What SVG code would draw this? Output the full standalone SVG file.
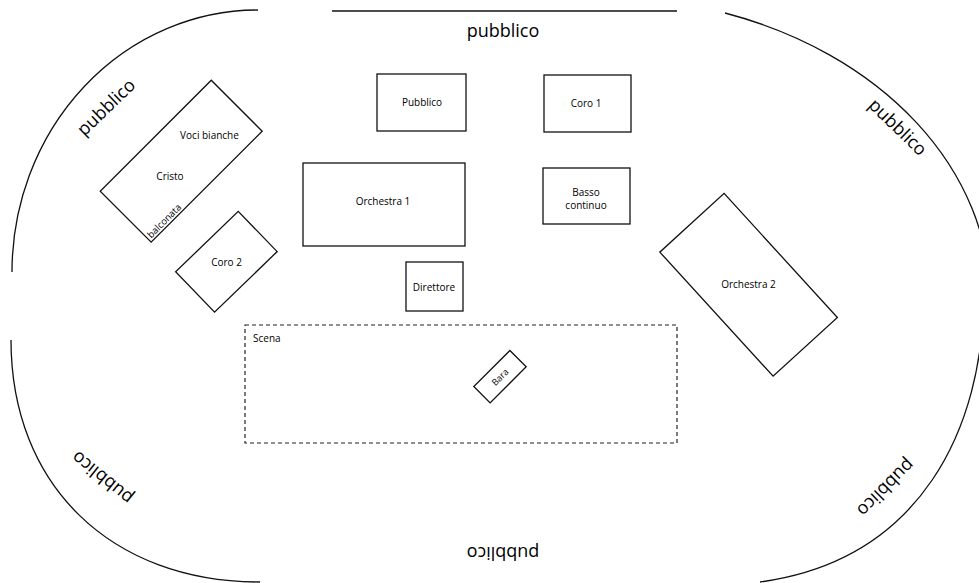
<svg xmlns="http://www.w3.org/2000/svg" width="979" height="583" viewBox="0 0 979 583">
<style>
  .bound { fill: none; stroke: #111; stroke-width: 1.3; }
  .box { fill: none; stroke: #111; stroke-width: 1.3; }
  .dash { fill: none; stroke: #222; stroke-width: 1.2; stroke-dasharray: 4 3; }
  .lbl { font-family: "Open Sans", "Noto Sans", sans-serif; font-size: 10px; fill: #000; text-anchor: middle; }
  .lbl-s { font-family: "Open Sans", "Noto Sans", sans-serif; font-size: 9.5px; fill: #000; }
  .pub { font-family: "Open Sans", "Noto Sans", sans-serif; font-size: 18px; fill: #000; text-anchor: middle; }
</style>
<rect width="979" height="583" fill="#fff"/>

<g id="audience">
  <path class="bound" d="M332,11 L677,11"/>
  <path class="bound" d="M258,10 A246,262 0 0 0 12,272"/>
  <path class="bound" d="M11,340 C11,485 110.6,582 260,582"/>
  <path class="bound" d="M725,13 A390,302 0 0 1 990,298"/>
  <path class="bound" d="M984,290 C984,430 920,560 760,582"/>
  <text class="pub" x="503" y="37">pubblico</text>
  <text class="pub" transform="translate(503,552) rotate(180)" x="0" y="5">pubblico</text>
  <text class="pub" transform="translate(107,108) rotate(-44)" x="0" y="5">pubblico</text>
  <text class="pub" transform="translate(897,128) rotate(44)" x="0" y="5">pubblico</text>
  <text class="pub" transform="translate(103,477) rotate(219)" x="0" y="5">pubblico</text>
  <text class="pub" transform="translate(885,487) rotate(135)" x="0" y="5">pubblico</text>
</g>

<g id="connectors"></g>

<g id="pubblico-box">
  <rect class="box" x="377" y="74" width="89" height="57"/>
  <text class="lbl" x="422" y="106">Pubblico</text>
</g>

<g id="coro1">
  <rect class="box" x="544" y="75" width="87" height="57"/>
  <text class="lbl" x="586" y="107">Coro 1</text>
</g>

<g id="orchestra1">
  <rect class="box" x="303" y="163" width="162" height="83"/>
  <text class="lbl" x="383" y="205">Orchestra 1</text>
</g>

<g id="basso-continuo">
  <rect class="box" x="543" y="168" width="87" height="56"/>
  <text class="lbl" x="586" y="195.5">Basso</text>
  <text class="lbl" x="586" y="209">continuo</text>
</g>

<g id="direttore">
  <rect class="box" x="406" y="262" width="57" height="49"/>
  <text class="lbl" x="434" y="291">Direttore</text>
</g>

<g id="balconata">
  <rect class="box" transform="translate(181.2,161.2) rotate(-45)" x="-78.5" y="-36" width="157" height="72"/>
  <text class="lbl" x="209.5" y="139">Voci bianche</text>
  <text class="lbl" x="170" y="180">Cristo</text>
  <text class="lbl-s" transform="translate(181.2,161.2) rotate(-45)" x="-76" y="33.5">balconata</text>
</g>

<g id="coro2">
  <rect class="box" transform="translate(226.4,261.7) rotate(-44)" x="-43.5" y="-28" width="87" height="56"/>
  <text class="lbl" x="226.5" y="266">Coro 2</text>
</g>

<g id="orchestra2">
  <rect class="box" transform="translate(748.6,284.8) rotate(47.6)" x="-84" y="-43.5" width="168" height="87"/>
  <text class="lbl" x="748.5" y="288">Orchestra 2</text>
</g>

<g id="scena">
  <rect class="dash" x="245" y="325" width="432" height="118"/>
  <text class="lbl-s" x="253" y="341.5" style="font-size:10px">Scena</text>
</g>

<g id="bara">
  <rect class="box" transform="translate(500,376.7) rotate(-45)" x="-25.5" y="-11.5" width="51" height="23"/>
  <text class="lbl" transform="translate(500,377) rotate(-45)" x="0" y="3.3" style="font-size:9px">Bara</text>
</g>
</svg>
